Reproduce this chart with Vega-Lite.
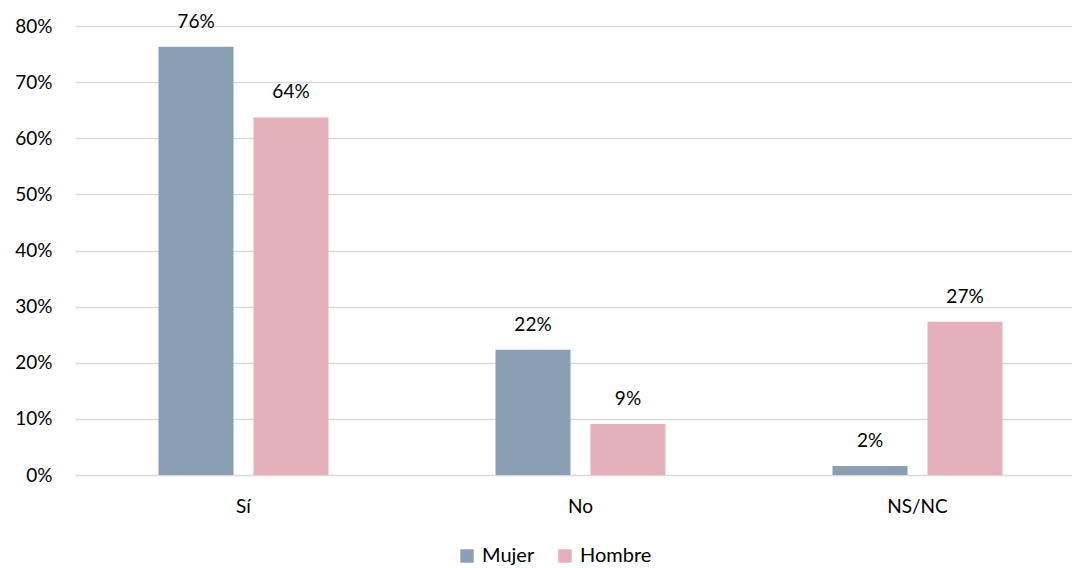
{
  "$schema": "https://vega.github.io/schema/vega-lite/v6.json",
  "autosize": {"type": "none"},
  "padding": {"left": 75, "top": 26, "right": 0, "bottom": 93},
  "width": 1011,
  "height": 449,
  "background": "white",
  "config": {"view": {"stroke": null}, "font": "Lato"},
  "data": {"values": [
    {"cat": "Sí", "sexo": "Mujer", "v": 0.763, "lab": "76%"},
    {"cat": "Sí", "sexo": "Hombre", "v": 0.637, "lab": "64%"},
    {"cat": "No", "sexo": "Mujer", "v": 0.223, "lab": "22%"},
    {"cat": "No", "sexo": "Hombre", "v": 0.091, "lab": "9%"},
    {"cat": "NS/NC", "sexo": "Mujer", "v": 0.016, "lab": "2%"},
    {"cat": "NS/NC", "sexo": "Hombre", "v": 0.273, "lab": "27%"}
  ]},
  "encoding": {
    "x": {"field": "cat", "type": "nominal", "sort": ["Sí", "No", "NS/NC"],
      "scale": {"paddingInner": 0, "paddingOuter": 0},
      "axis": {"title": null, "labelAngle": 0, "ticks": false, "domain": false, "labelFontSize": 19, "labelColor": "#000000", "labelPadding": 22}},
    "xOffset": {"field": "sexo", "type": "nominal", "sort": ["Mujer", "Hombre"],
      "scale": {"paddingInner": 0.2105, "paddingOuter": 0.879}},
    "y": {"field": "v", "type": "quantitative",
      "scale": {"domain": [0, 0.8], "nice": false},
      "axis": {"title": null, "format": ".0%", "tickCount": 8, "ticks": false, "domain": false, "labelFontSize": 19, "labelColor": "#000000", "labelPadding": 23, "gridColor": "#d9d9d9", "gridWidth": 1.5}}
  },
  "layer": [
    {"mark": {"type": "bar"},
      "encoding": {"color": {"field": "sexo", "type": "nominal", "sort": ["Mujer", "Hombre"],
        "scale": {"domain": ["Mujer", "Hombre"], "range": ["#8a9fb3", "#e4b0b9"]},
        "legend": {"title": null, "orient": "none", "direction": "horizontal", "legendX": 382, "legendY": 520, "symbolType": "square", "symbolSize": 180, "symbolStrokeWidth": 0, "labelFontSize": 20, "labelColor": "#000000", "columnPadding": 20, "labelOffset": 5}}}},
    {"mark": {"type": "text", "baseline": "bottom", "dy": -15, "fontSize": 19, "color": "#000000"},
      "encoding": {"text": {"field": "lab"}}}
  ]
}
